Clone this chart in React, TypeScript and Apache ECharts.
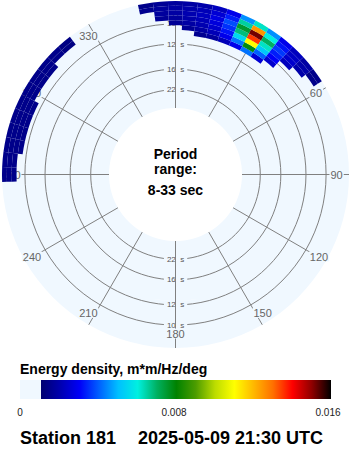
import React, { useEffect, useRef } from "react";
import * as echarts from "echarts";

// ---- data ----
// frequency bins (Hz), centre values; bin width 0.004 Hz
const freqs = [0.093, 0.097, 0.101, 0.105, 0.109, 0.113, 0.117];
// direction bins (deg, coming from), 5 deg wide
const dirs = [
  270, 275, 280, 285, 290, 295, 300, 305, 310, 315, 320, 325, 330, 335, 340, 345,
  350, 355, 0, 5, 10, 15, 20, 25, 30, 35, 40, 45, 50, 55,
];
// energy density (m*m/Hz/deg) per frequency row, one value per direction bin
const e093 = [0, 0, 0, 0, 0, 0, 0, 0, 0, 0, 0, 0, 0, 0, 0, 0, 0, 0, 0, 0, 0.0015, 0.0017, 0.0021, 0.0028, 0.0042, 0.0025, 0, 0, 0, 0];
const e097 = [0, 0, 0, 0, 0, 0, 0, 0, 0, 0, 0, 0, 0, 0, 0, 0, 0, 0, 0, 0.0016, 0.0018, 0.0021, 0.0028, 0.0042, 0.0078, 0.004, 0.0024, 0, 0, 0];
const e101 = [0, 0, 0, 0, 0, 0, 0, 0, 0, 0, 0, 0, 0, 0, 0, 0, 0, 0, 0.0016, 0.0018, 0.002, 0.0024, 0.0032, 0.0055, 0.011, 0.0052, 0.003, 0, 0, 0];
const e105 = [0, 0, 0.0014, 0.0014, 0.0014, 0.0014, 0, 0, 0, 0, 0, 0, 0, 0, 0, 0, 0, 0.0016, 0.0017, 0.0019, 0.0021, 0.0026, 0.0035, 0.0068, 0.0135, 0.0062, 0.0033, 0.0022, 0, 0];
const e109 = [0.0014, 0.0014, 0.0014, 0.0014, 0.0014, 0.0014, 0.0014, 0.0014, 0.0014, 0, 0, 0, 0, 0, 0, 0, 0, 0.0017, 0.0018, 0.002, 0.0022, 0.0027, 0.0038, 0.0075, 0.0152, 0.007, 0.0036, 0.0024, 0.0019, 0];
const e113 = [0.0014, 0.0014, 0.0014, 0.0014, 0.0014, 0.0014, 0.0014, 0.0014, 0.0014, 0.0014, 0.0013, 0, 0, 0, 0, 0, 0.0015, 0.0017, 0.0018, 0.0019, 0.0021, 0.0025, 0.0033, 0.0065, 0.0125, 0.006, 0.0032, 0.0023, 0.0019, 0.0014];
const e117 = [0.0014, 0.0014, 0.0014, 0.0014, 0.0014, 0.0014, 0.0014, 0.0014, 0.0014, 0.0014, 0.0013, 0, 0, 0, 0, 0, 0.0014, 0.0016, 0.0017, 0.0018, 0.0019, 0.0022, 0.0028, 0.0045, 0.0062, 0.0045, 0.0028, 0.0022, 0.0018, 0.0014];
const energyRows = [e093, e097, e101, e105, e109, e113, e117];

const periodRings = [10, 12, 16, 22]; // seconds
const angleTicks = [0, 30, 60, 90, 120, 150, 180, 210, 240, 270, 300, 330];
const colorTicks = [0, 0.008, 0.016];
const periodMin = 8;
const periodMax = 33;

// ---- styles ----
const palette = [
  "#000070", "#0000b0", "#0000f8", "#0060ff", "#00c0ff", "#00f0e0", "#00b060", "#008200",
  "#4c9c00", "#bcdc00", "#ffff00", "#ffb800", "#ff7000", "#ff0000", "#900000", "#000000",
];
const BG = "#f0f8ff";
const GRID = "#808080";
const FONT = "'Liberation Sans', Arial, Helvetica, sans-serif";
const R_MIN = 1 / 33;
const R_MAX = 0.119;
const HALF_F = 0.002;
const HALF_D = 2.5;
const VMIN = 0.001;
const VMAX = 0.016;
const NBSP = "\u00a0";

export default function App() {
  const ref = useRef<HTMLDivElement>(null);

  useEffect(() => {
    document.body.style.margin = "0";
    const chart = echarts.init(ref.current as HTMLDivElement, null, { renderer: "svg" });

    const cells: number[][] = [];
    freqs.forEach((f, i) => {
      dirs.forEach((d, j) => {
        const v = energyRows[i][j];
        if (v > 0) cells.push([f, d, v]);
      });
    });

    const barX0 = 41;
    const barX1 = 331;
    const labelX = (v: number) => 20 + (v / VMAX) * 308;
    const txt = (x: number, y: number, text: string, font: string, align = "center", fill = "#000") => ({
      type: "text",
      style: { x, y, text, align, verticalAlign: "middle", font, lineHeight: 13, fill },
    });

    const option: any = {
      animation: false,
      polar: { center: [175.5, 174.5], radius: [66.5, 173.5] },
      angleAxis: {
        type: "value",
        min: 0,
        max: 360,
        interval: 30,
        startAngle: 90,
        clockwise: true,
        z: 5,
        axisLine: { show: false },
        axisTick: { show: false },
        axisLabel: {
          show: true,
          margin: -19.5,
          fontSize: 11,
          lineHeight: 10,
          fontFamily: FONT,
          color: "#666",
          backgroundColor: BG,
          padding: [0, 1],
        },
        splitLine: { show: false },
        splitArea: { show: false },
      },
      radiusAxis: {
        type: "value",
        min: R_MIN,
        max: R_MAX,
        z: 0,
        axisLine: { show: false },
        axisTick: { show: false },
        axisLabel: { show: false },
        splitLine: { show: false },
        splitArea: { show: true, areaStyle: { color: [BG] } },
      },
      visualMap: {
        type: "continuous",
        show: false,
        min: VMIN,
        max: VMAX,
        dimension: 2,
        seriesIndex: 2,
        inRange: { color: palette },
      },
      series: [
        {
          type: "custom",
          coordinateSystem: "polar",
          z: 3,
          data: periodRings.map((p) => [1 / p, 0]),
          renderItem: (params: any, api: any) => {
            const cs = params.coordSys;
            const f = api.value(0);
            const p = String(periodRings[params.dataIndex]);
            const top = api.coord([f, 0]);
            const bot = api.coord([f, 180]);
            const r = Math.hypot(top[0] - cs.cx, top[1] - cs.cy);
            const lbl = (pt: number[]) => ({
              type: "text",
              style: {
                x: pt[0] - p.length * 4.45 - 2.7,
                y: pt[1],
                text: p + NBSP + NBSP + "s",
                align: "left",
                verticalAlign: "middle",
                fontSize: 8,
                lineHeight: 6,
                fontFamily: FONT,
                fill: "#555",
                backgroundColor: BG,
                padding: [0, 3],
              },
            });
            return {
              type: "group",
              children: [
                {
                  type: "circle",
                  shape: { cx: cs.cx, cy: cs.cy, r },
                  style: { fill: null, stroke: GRID, lineWidth: 1 },
                },
                lbl(top),
                lbl(bot),
              ],
            };
          },
        },
        {
          type: "custom",
          coordinateSystem: "polar",
          z: 4,
          data: angleTicks.map((a) => [R_MAX, a]),
          renderItem: (params: any, api: any) => {
            const a = api.value(1);
            const p0 = api.coord([R_MIN, a]);
            const p1 = api.coord([R_MAX, a]);
            return {
              type: "line",
              shape: { x1: p0[0], y1: p0[1], x2: p1[0], y2: p1[1] },
              style: { stroke: GRID, lineWidth: 1 },
            };
          },
        },
        {
          type: "custom",
          coordinateSystem: "polar",
          z: 10,
          data: cells,
          renderItem: (params: any, api: any) => {
            const cs = params.coordSys;
            const f = api.value(0);
            const d = api.value(1);
            const p1 = api.coord([f - HALF_F, d - HALF_D]);
            const p2 = api.coord([f + HALF_F, d + HALF_D]);
            const r0 = Math.hypot(p1[0] - cs.cx, p1[1] - cs.cy);
            const r = Math.hypot(p2[0] - cs.cx, p2[1] - cs.cy);
            let a1 = Math.atan2(p1[1] - cs.cy, p1[0] - cs.cx);
            let a2 = Math.atan2(p2[1] - cs.cy, p2[0] - cs.cx);
            if (a2 < a1) a2 += Math.PI * 2;
            const color = api.visual("color");
            return {
              type: "sector",
              shape: { cx: cs.cx, cy: cs.cy, r0, r, startAngle: a1, endAngle: a2, clockwise: true },
              style: { fill: color },
            };
          },
        },
      ],
      graphic: [
        txt(175.5, 153.5, "Period", `bold 14px ${FONT}`),
        txt(175.5, 168.5, "range:", `bold 14px ${FONT}`),
        txt(175.5, 190, `${periodMin}-${periodMax} sec`, `bold 14px ${FONT}`),
        txt(20, 369, "Energy density, m*m/Hz/deg", `bold 14px ${FONT}`, "left"),
        {
          type: "rect",
          shape: { x: 20, y: 380, width: barX0 - 20, height: 19 },
          style: { fill: BG },
        },
        {
          type: "rect",
          shape: { x: barX0, y: 380, width: barX1 - barX0, height: 19 },
          style: {
            fill: {
              type: "linear",
              x: 0,
              y: 0,
              x2: 1,
              y2: 0,
              colorStops: palette.map((c, i) => ({ offset: i / (palette.length - 1), color: c })),
            },
          },
        },
        ...colorTicks.map((v) => txt(labelX(v), 412, String(v), `10px ${FONT}`, "center", "#222")),
        txt(20, 438, "Station 181", `bold 18px ${FONT}`, "left"),
        txt(138, 438, "2025-05-09 21:30 UTC", `bold 18px ${FONT}`, "left"),
      ],
    };

    chart.setOption(option);
    return () => chart.dispose();
  }, []);

  return <div ref={ref} style={{ width: 350, height: 450 }} />;
}
